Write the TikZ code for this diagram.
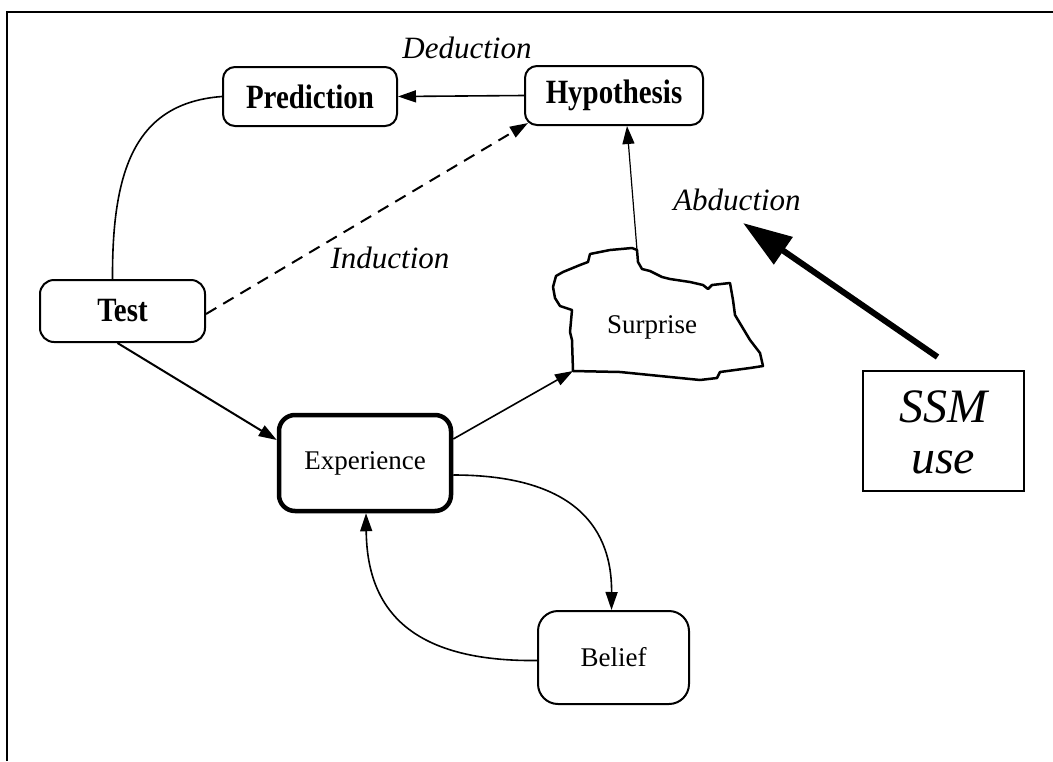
\documentclass[tikz,border=0pt]{standalone}
\usepackage{fontspec}
\setmainfont{Liberation Serif}
\usetikzlibrary{arrows.meta,calc}

% slightly narrowed bold labels used in the upper boxes
\newcommand{\narrowbold}[1]{\scalebox{0.85}[1]{\fontsize{34}{40}\selectfont\bfseries #1}}

\begin{document}
\begin{tikzpicture}[x=1pt,y=-1pt,
  box/.style={draw,line width=2pt,rounded corners=12pt,align=center,inner sep=0pt},
  conn/.style={line width=1.6pt,-{Triangle[length=18pt,width=12pt]}},
  lbl/.style={font=\fontsize{31}{36}\selectfont\itshape,anchor=base,inner sep=0pt},
  plainlbl/.style={font=\fontsize{27}{32}\selectfont},
  bigital/.style={font=\fontsize{48}{54}\selectfont\itshape,anchor=base,inner sep=0pt},
]
\useasboundingbox (0,0) rectangle (1053,761);

% open frame: top and left edges only
\draw[line width=2pt] (7,761) -- (7,12) -- (1053,12);

% boxes
\node[box,minimum width=174pt,minimum height=59pt] (pred) at (310,96.5) {\narrowbold{Prediction}};
\node[box,minimum width=178pt,minimum height=59pt] (hyp) at (614,95.5) {\narrowbold{Hypothesis}};
\node[box,minimum width=165pt,minimum height=62pt,rounded corners=14pt] (test) at (122.5,311) {\narrowbold{Test}};
\node[box,plainlbl,line width=4.5pt,minimum width=172pt,minimum height=96pt,rounded corners=16pt] (exp) at (365,463) {Experience};
\node[box,plainlbl,minimum width=151pt,minimum height=93pt,rounded corners=20pt] (bel) at (613.5,657.5) {Belief};
\node[draw,line width=2pt,minimum width=161pt,minimum height=120pt,inner sep=0pt] (ssm) at (943.5,431) {};
\node[bigital] (ssmA) at (943,422) {SSM};
\node[bigital] (ssmB) at (943,473) {use};

% italic labels
\node[lbl] (ded) at (467,58) {Deduction};
\node[lbl] (ind) at (390,268) {Induction};
\node[lbl] (abd) at (737,210) {Abduction};

% irregular "Surprise" outline
\draw[line width=2.5pt,line join=round]
  (553,287) -- (556,276) -- (563,272) -- (580,265) -- (588,262) -- (590,254)
  -- (610,250) -- (632,248) -- (637,250) -- (638,262) -- (642,269) -- (650,271)
  -- (662,277) -- (670,279) -- (690,282) -- (703,285) -- (708,289) -- (712,285)
  -- (730,283) -- (733,300) -- (735,315) -- (738,320) -- (750,340) -- (760,353)
  -- (763,366) -- (750,368) -- (720,372) -- (717,378) -- (700,380) -- (660,376)
  -- (620,372) -- (573,371) -- (572,340) -- (570,332) -- (572,310) -- (560,306)
  -- (555,298) -- cycle;
\node[plainlbl] (surp) at (652,327) {Surprise};
\coordinate (surptop) at (637,250);
\coordinate (surpbl) at (573,371);

% connectors
\draw[conn] (hyp.west) -- (pred.east);
\draw[line width=1.6pt] (pred.west) .. controls (135,103) and (112,170) .. ($(test.north)+(-10,0)$);
\draw[conn,line width=2pt,dash pattern=on 12pt off 8pt] ($(test.east)+(0,3)$) -- ($(hyp.south west)+(4,-3)$);
\draw[conn,line width=1.2pt] (surptop) -- ($(hyp.south)+(13,0)$);
\draw[conn,line width=2pt] ($(test.south)+(-5,0)$) -- ($(exp.west)+(0,-23)$);
\draw[conn] ($(exp.east)+(0,-24)$) -- (surpbl);
\draw[conn] ($(exp.east)+(0,12)$) .. controls (565,475) and (612,520) .. ($(bel.north)+(-2,0)$);
\draw[conn] ($(bel.west)+(0,3)$) .. controls (400,662) and (367,600) .. ($(exp.south)+(1,0)$);

% thick arrow from the SSM box
\coordinate (abdtip) at (743,223);
\draw[line width=6pt,-{Triangle[length=49pt,width=32pt]}] ($(ssm.north)+(-6,-13)$) -- (abdtip);
\end{tikzpicture}
\end{document}
